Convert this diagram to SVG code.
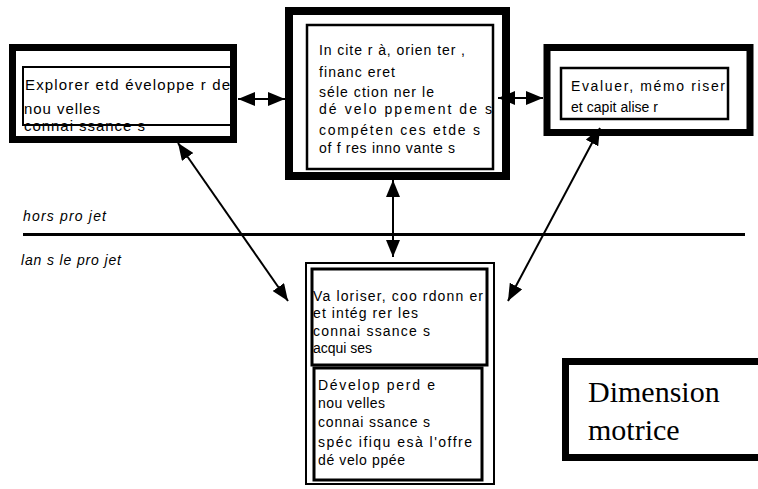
<svg xmlns="http://www.w3.org/2000/svg" width="758" height="489" viewBox="0 0 758 489">
<style>
.thick{fill:none;stroke:#000}
.thin{fill:none;stroke:#000}
.t{font-family:"Liberation Sans",Arial,sans-serif;fill:#000}
.it{font-family:"Liberation Sans",Arial,sans-serif;font-style:italic;fill:#000;font-size:14px}
.serif{font-family:"Liberation Serif","Times New Roman",serif;font-size:30px;fill:#000}
.conn{stroke:#000;stroke-width:2;fill:none;marker-start:url(#ah);marker-end:url(#ah)}
</style>
<defs>
<marker id="ah" viewBox="0 0 17 14" markerWidth="17" markerHeight="14" refX="17" refY="7" markerUnits="userSpaceOnUse" orient="auto-start-reverse">
<path d="M0,0 L17,7 L0,14 z" fill="#000"/>
</marker>
</defs>
<rect width="758" height="489" fill="#fff"/>

<g id="node-explorer">
<rect class="thick" x="12.5" y="47.5" width="221" height="92" stroke-width="7"/>
<rect class="thin" x="23" y="67" width="208" height="58" stroke-width="2"/>
<g class="t" font-size="15">
<text x="25" y="90" textLength="205">Explorer etd éveloppe r de</text>
<text x="24" y="114" textLength="76">nou velles</text>
<text x="24" y="131" textLength="121">connai ssance s</text>
</g>
</g>

<g id="node-inciter">
<rect class="thick" x="289" y="11" width="217" height="165" stroke-width="8"/>
<rect class="thin" x="307" y="25" width="186" height="144" stroke-width="2.5"/>
<g class="t" font-size="14">
<text x="319" y="55" textLength="146">In cite r à, orien ter ,</text>
<text x="319" y="77" textLength="76">financ eret</text>
<text x="319" y="97" textLength="115">séle ction ner le</text>
<text x="319" y="114" textLength="173">dé velo ppement de s</text>
<text x="319" y="135" textLength="161">compéten ces etde s</text>
<text x="319" y="153" textLength="136">of f res inno vante s</text>
</g>
</g>

<g id="node-evaluer">
<rect class="thick" x="547" y="47.5" width="203" height="85" stroke-width="7"/>
<rect class="thin" x="561" y="68" width="167" height="51" stroke-width="2.5"/>
<g class="t" font-size="14">
<text x="571" y="91" textLength="154">Evaluer, mémo riser</text>
<text x="571" y="112" textLength="87">et capit alise r</text>
</g>
</g>

<g id="node-valoriser">
<rect class="thin" x="306" y="263" width="188" height="221" stroke-width="2"/>
<rect class="thin" x="312" y="269" width="175" height="96" stroke-width="3"/>
<rect class="thin" x="314" y="368" width="168" height="112" stroke-width="3"/>
<g class="t" font-size="14">
<text x="313" y="301" textLength="170">Va loriser, coo rdonn er</text>
<text x="313" y="318" textLength="105">et intég rer les</text>
<text x="313" y="336" textLength="117">connai ssance s</text>
<text x="313" y="353" textLength="59">acqui ses</text>
<text x="318" y="390" textLength="117">Dévelop perd e</text>
<text x="318" y="408" textLength="67">nou velles</text>
<text x="318" y="427" textLength="112">connai ssance s</text>
<text x="318" y="447" textLength="154">spéc ifiqu esà l'offre</text>
<text x="318" y="465" textLength="87">dé velo ppée</text>
</g>
</g>

<g id="separator">
<line x1="23" y1="234.5" x2="745" y2="234.5" stroke="#000" stroke-width="3"/>
<text class="it" x="23" y="221" textLength="83">hors pro jet</text>
<text class="it" x="21" y="265" textLength="100">lan s le pro jet</text>
</g>

<g id="node-dimension">
<rect class="thick" x="565.5" y="361.5" width="210" height="96" stroke-width="7"/>
<text class="serif" x="588" y="402">Dimension</text>
<text class="serif" x="588" y="440">motrice</text>
</g>

<g id="connectors">
<line class="conn" x1="238" y1="99" x2="285" y2="99"/>
<line class="conn" x1="498" y1="98" x2="543" y2="98"/>
<line class="conn" x1="393" y1="180" x2="393" y2="257"/>
<line class="conn" x1="178" y1="143" x2="288" y2="301"/>
<line class="conn" x1="600" y1="128" x2="508" y2="301"/>
</g>
</svg>
